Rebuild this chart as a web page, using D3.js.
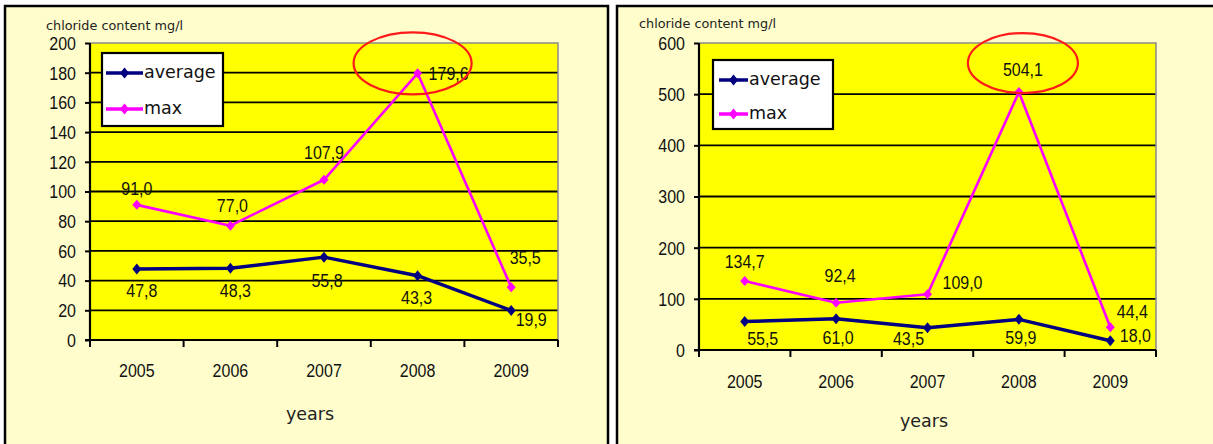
<!DOCTYPE html>
<html>
<head>
<meta charset="utf-8">
<script src="https://cdn.jsdelivr.net/npm/d3@7"></script>
<style>
  html, body { margin: 0; padding: 0; background: #ffffff; }
  svg { display: block; }
</style>
</head>
<body>
<svg id="chart" width="1213" height="444"></svg>
<script>
// Chloride content, two monitoring sites, 2005-2009
const years = ["2005", "2006", "2007", "2008", "2009"];

const averageSiteA = [47.8, 48.3, 55.8, 43.3, 19.9];
const maxSiteA     = [91.0, 77.0, 107.9, 179.6, 35.5];
const ticksSiteA   = [0, 20, 40, 60, 80, 100, 120, 140, 160, 180, 200];

const averageSiteB = [55.5, 61.0, 43.5, 59.9, 18.0];
const maxSiteB     = [134.7, 92.4, 109.0, 504.1, 44.4];
const ticksSiteB   = [0, 100, 200, 300, 400, 500, 600];

const seriesNames = ["average", "max"];
const yTitle = "chloride content mg/l";
const xTitle = "years";

const NAVY = "#000080";
const MAGENTA = "#ff00ff";
const PANEL_BG = "#fffdcc";
const PLOT_BG = "#ffff00";
const NUM_FONT = "'Liberation Sans', Arial, sans-serif";
const TXT_FONT = "'DejaVu Sans', Verdana, sans-serif";

const svg = d3.select("#chart");
const fmt = v => d3.format(".1f")(v).replace(".", ",");

// label placement around each point, [dx, dy] in px
const layoutA = {
  panel: { x: 5, y: 6, w: 603, h: 470 },
  plot: { left: 90, top: 43, right: 558, bottom: 340 },
  title: { x: 46, y: 26 },
  legend: { x: 102, y: 53, w: 121, h: 73, lineX0: 106, lineX1: 143, textX: 144, rows: [73, 109] },
  xLabelDy: 31, xTitle: { x: 310, y: 414 },
  avgOffsets: [[5, 22], [5, 22], [3, 24], [-1, 22], [20, 9]],
  maxOffsets: [[0, -16], [2, -20], [0, -27], [31, 0], [14, -30]],
  ring: { dx: -5, dy: -10, rx: 59, ry: 31 }
};
const layoutB = {
  panel: { x: 617, y: 6, w: 640, h: 470 },
  plot: { left: 699, top: 43, right: 1156, bottom: 350 },
  title: { x: 639, y: 24 },
  legend: { x: 713, y: 60, w: 120, h: 69, lineX0: 719, lineX1: 748, textX: 749, rows: [80, 114] },
  xLabelDy: 32, xTitle: { x: 924, y: 421 },
  avgOffsets: [[18, 17], [2, 19], [-19, 11], [2, 18], [25, -5]],
  maxOffsets: [[0, -19], [4, -27], [35, -12], [4, -22], [22, -16]],
  ring: { dx: 4, dy: -29, rx: 55, ry: 30 }
};

function diamond(g, x, y, color, hw, hh) {
  g.append("path")
    .attr("d", `M${x},${y - hh}L${x + hw},${y}L${x},${y + hh}L${x - hw},${y}Z`)
    .attr("fill", color);
}

function numText(g, x, y, str, anchor) {
  return g.append("text")
    .attr("transform", `translate(${x},${y}) scale(1,1.1)`)
    .attr("text-anchor", anchor || "middle")
    .attr("dy", "0.36em")
    .attr("font-family", NUM_FONT)
    .attr("font-size", 16)
    .attr("fill", "#111")
    .text(str);
}

function drawPanel(L, avg, mx, ticks) {
  const g = svg.append("g");
  const P = L.plot;

  // outer frame
  g.append("rect")
    .attr("x", L.panel.x).attr("y", L.panel.y)
    .attr("width", L.panel.w).attr("height", L.panel.h)
    .attr("fill", PANEL_BG).attr("stroke", "#000").attr("stroke-width", 2.5);

  const x = d3.scaleBand().domain(years).range([P.left, P.right]);
  const y = d3.scaleLinear().domain([0, d3.max(ticks)]).range([P.bottom, P.top]);

  // plot area
  g.append("rect")
    .attr("x", P.left).attr("y", P.top)
    .attr("width", P.right - P.left).attr("height", P.bottom - P.top)
    .attr("fill", PLOT_BG);

  // gridlines
  g.append("g").selectAll("line")
    .data(ticks.slice(1, -1))
    .join("line")
    .attr("x1", P.left).attr("x2", P.right)
    .attr("y1", d => y(d)).attr("y2", d => y(d))
    .attr("stroke", "#000").attr("stroke-width", 1.8);

  // plot border top/right
  g.append("path")
    .attr("d", `M${P.left},${P.top}H${P.right}V${P.bottom}`)
    .attr("fill", "none").attr("stroke", "#8a8a8a").attr("stroke-width", 1.5);

  // y axis
  const yAxis = d3.axisLeft(y).tickValues(ticks).tickSize(5).tickPadding(9).tickFormat(d3.format("d"));
  const ya = g.append("g").attr("transform", `translate(${P.left},0)`).call(yAxis);
  ya.select(".domain").remove();
  ya.selectAll(".tick line").attr("stroke", "#000").attr("stroke-width", 2);
  ya.selectAll(".tick text")
    .attr("font-family", NUM_FONT).attr("font-size", 16).attr("fill", "#111")
    .attr("dy", "0.36em")
    .attr("transform", "scale(1,1.1)");
  g.append("line")
    .attr("x1", P.left).attr("x2", P.left).attr("y1", P.top).attr("y2", P.bottom)
    .attr("stroke", "#000").attr("stroke-width", 2.2);

  // x axis with ticks on category boundaries
  g.append("line")
    .attr("x1", P.left - 5).attr("x2", P.right).attr("y1", P.bottom).attr("y2", P.bottom)
    .attr("stroke", "#000").attr("stroke-width", 2.2);
  const edges = years.map(d => x(d)).concat([P.right]);
  g.append("g").selectAll("line")
    .data(edges).join("line")
    .attr("x1", d => d).attr("x2", d => d)
    .attr("y1", P.bottom).attr("y2", P.bottom + 7)
    .attr("stroke", "#000").attr("stroke-width", 2);
  years.forEach(yr => numText(g, x(yr) + x.bandwidth() / 2, P.bottom + L.xLabelDy, yr));

  // axis titles
  g.append("text")
    .attr("x", L.title.x).attr("y", L.title.y).attr("dy", "0.35em")
    .attr("font-family", TXT_FONT).attr("font-size", 12).attr("fill", "#222")
    .attr("textLength", 137).attr("lengthAdjust", "spacingAndGlyphs")
    .text(yTitle);
  g.append("text")
    .attr("x", L.xTitle.x).attr("y", L.xTitle.y).attr("dy", "0.35em")
    .attr("text-anchor", "middle")
    .attr("font-family", TXT_FONT).attr("font-size", 17.5).attr("fill", "#222")
    .text(xTitle);

  const cx = i => x(years[i]) + x.bandwidth() / 2;
  const line = d3.line().x((d, i) => cx(i)).y(d => y(d));

  // series
  g.append("path").datum(mx).attr("d", line)
    .attr("fill", "none").attr("stroke", MAGENTA).attr("stroke-width", 2.6).attr("stroke-linejoin", "round");
  mx.forEach((v, i) => diamond(g, cx(i), y(v), MAGENTA, 4.5, 5));
  g.append("path").datum(avg).attr("d", line)
    .attr("fill", "none").attr("stroke", NAVY).attr("stroke-width", 3.5).attr("stroke-linejoin", "round");
  avg.forEach((v, i) => diamond(g, cx(i), y(v), NAVY, 4.5, 5.5));

  // value labels
  mx.forEach((v, i) => numText(g, cx(i) + L.maxOffsets[i][0], y(v) + L.maxOffsets[i][1], fmt(v)));
  avg.forEach((v, i) => numText(g, cx(i) + L.avgOffsets[i][0], y(v) + L.avgOffsets[i][1], fmt(v)));

  // highlight ring around the peak maximum
  const peak = d3.maxIndex(mx);
  g.append("ellipse")
    .attr("cx", cx(peak) + L.ring.dx).attr("cy", y(mx[peak]) + L.ring.dy)
    .attr("rx", L.ring.rx).attr("ry", L.ring.ry)
    .attr("fill", "none").attr("stroke", "#ff1a1a").attr("stroke-width", 2.2);

  // legend
  const lg = L.legend;
  g.append("rect")
    .attr("x", lg.x).attr("y", lg.y).attr("width", lg.w).attr("height", lg.h)
    .attr("fill", "#fff").attr("stroke", "#000").attr("stroke-width", 2.2);
  [NAVY, MAGENTA].forEach((c, k) => {
    const ry = lg.rows[k];
    g.append("line")
      .attr("x1", lg.lineX0).attr("x2", lg.lineX1).attr("y1", ry).attr("y2", ry)
      .attr("stroke", c).attr("stroke-width", 3.5);
    diamond(g, (lg.lineX0 + lg.lineX1) / 2, ry, c, 4.5, 5.5);
    g.append("text")
      .attr("x", lg.textX).attr("y", ry).attr("dy", "0.3em")
      .attr("font-family", TXT_FONT).attr("font-size", 17.5).attr("fill", "#111")
      .text(seriesNames[k]);
  });
}

drawPanel(layoutA, averageSiteA, maxSiteA, ticksSiteA);
drawPanel(layoutB, averageSiteB, maxSiteB, ticksSiteB);
</script>
</body>
</html>
